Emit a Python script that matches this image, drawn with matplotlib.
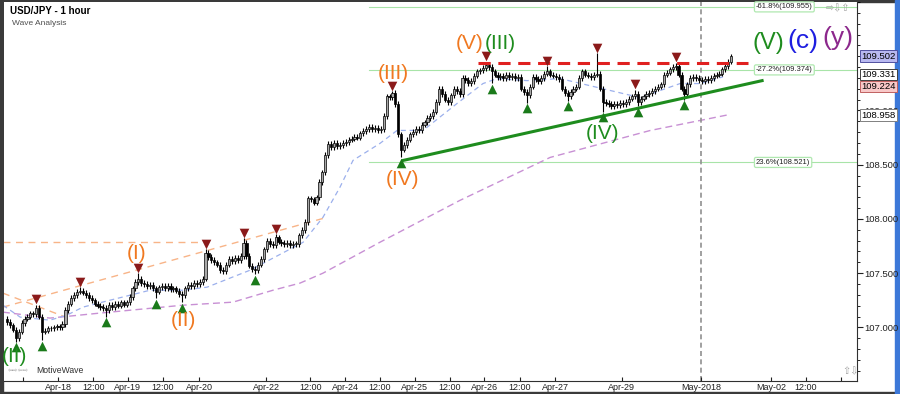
import numpy as np
import matplotlib
matplotlib.use('Agg')
import matplotlib.pyplot as plt
import matplotlib.patches as mpatches

plt.rcParams['font.family'] = ['Liberation Sans', 'DejaVu Sans']

# hourly closes, USD/JPY
closes = [
    107.05, 107.02, 106.98, 106.90, 106.96, 107.04, 107.08, 107.10, 107.13, 107.12, 107.18, 107.10,
    106.96, 106.97, 106.99, 106.99, 107.00, 107.01, 107.00, 107.03, 107.16, 107.22, 107.27, 107.30,
    107.33, 107.34, 107.32, 107.30, 107.27, 107.25, 107.22, 107.20, 107.19, 107.18, 107.16, 107.21,
    107.19, 107.22, 107.20, 107.23, 107.21, 107.23, 107.28, 107.36, 107.42, 107.45, 107.41, 107.40,
    107.38, 107.39, 107.36, 107.33, 107.37, 107.38, 107.36, 107.38, 107.35, 107.36, 107.34, 107.31,
    107.30, 107.36, 107.39, 107.38, 107.41, 107.40, 107.42, 107.45, 107.69, 107.65, 107.62, 107.60,
    107.58, 107.53, 107.52, 107.58, 107.63, 107.61, 107.64, 107.62, 107.66, 107.78, 107.66, 107.57,
    107.54, 107.53, 107.58, 107.63, 107.72, 107.80, 107.77, 107.76, 107.83, 107.79, 107.78, 107.77,
    107.78, 107.76, 107.77, 107.77, 107.85, 107.90, 107.97, 108.19, 108.18, 108.15, 108.20, 108.34,
    108.43, 108.59, 108.69, 108.66, 108.70, 108.67, 108.68, 108.70, 108.71, 108.73, 108.74, 108.76,
    108.75, 108.79, 108.81, 108.83, 108.85, 108.83, 108.84, 108.82, 108.83, 108.95, 109.13, 109.12,
    109.16, 109.06, 108.78, 108.64, 108.68, 108.73, 108.78, 108.80, 108.83, 108.82, 108.87, 108.89,
    108.93, 108.95, 108.99, 109.08, 109.20, 109.15, 109.10, 109.08, 109.14, 109.20, 109.18, 109.15,
    109.30, 109.28, 109.25, 109.27, 109.32, 109.36, 109.37, 109.39, 109.42, 109.40, 109.36, 109.33,
    109.31, 109.32, 109.30, 109.33, 109.31, 109.32, 109.30, 109.31, 109.20, 109.17, 109.14, 109.22,
    109.31, 109.29, 109.27, 109.30, 109.34, 109.36, 109.33, 109.32, 109.31, 109.29, 109.20, 109.16,
    109.13, 109.17, 109.20, 109.22, 109.30, 109.36, 109.33, 109.32, 109.31, 109.33, 109.34, 109.20,
    109.08, 109.07, 109.06, 109.04, 109.06, 109.05, 109.07, 109.06, 109.08, 109.11, 109.13, 109.15,
    109.08, 109.11, 109.13, 109.15, 109.16, 109.18, 109.20, 109.22, 109.24, 109.33, 109.35, 109.38,
    109.40, 109.41, 109.33, 109.20, 109.15, 109.24, 109.30, 109.31, 109.30, 109.28, 109.27, 109.29,
    109.28, 109.30, 109.32, 109.33, 109.34, 109.38, 109.41, 109.45, 109.50,
]
first_open = 107.08

# swing highs / lows (bar index, price) - marked with triangles
swing_hi_idx = [10, 25, 45, 68, 81, 92, 132, 164, 185, 202, 215, 229]
swing_hi_px = [107.21, 107.37, 107.50, 107.72, 107.82, 107.86, 109.18, 109.45, 109.41, 109.53, 109.19, 109.44]
swing_lo_idx = [3, 12, 34, 51, 60, 85, 135, 166, 178, 192, 204, 216, 232]
swing_lo_px = [106.87, 106.88, 107.10, 107.27, 107.23, 107.49, 108.57, 109.25, 109.07, 109.09, 108.99, 109.04, 109.10]

# moving averages (bar index, value)
ma_fast_idx = [-1.4, 4.5, 14.7, 20.5, 26.0, 35.3, 49.0, 60.3, 68.5, 83.2, 101.4, 108.2, 114.0, 118.5,
               127.7, 133.6, 142.5, 154.1, 163.0, 167.8, 178.1, 189.4, 211.0, 216.8, 230.5, 237.3, 245.2]
ma_fast_val = [107.205, 107.095, 107.067, 107.113, 107.187, 107.251, 107.343, 107.343, 107.371, 107.527,
               107.785, 108.015, 108.291, 108.540, 108.696, 108.816, 108.816, 109.064, 109.248, 109.294,
               109.275, 109.294, 109.156, 109.119, 109.248, 109.248, 109.31]
ma_slow_idx = [-1.4, 14.7, 31.8, 60.3, 77.4, 91.1, 100.3, 108.2, 127.7, 155.1, 186.0, 220.2, 246.6]
ma_slow_val = [107.141, 107.086, 107.132, 107.205, 107.233, 107.343, 107.408, 107.500, 107.785,
               108.171, 108.567, 108.815, 108.958]

# fibonacci levels
fib_labels = ['-61.8%(109.955)', '-27.2%(109.374)', '23.6%(108.521)']
fib_levels = [109.955, 109.374, 108.521]

# x axis labels (bar index)
xtick_pos = [5.5, 17.5, 29.5, 41.4, 53.4, 65.8, 88.7, 103.8, 115.8, 127.7, 139.7, 151.7, 163.4,
             175.7, 187.7, 210.6, 237.7, 261.6, 273.6, 285.6]
xtick_lab = ['', 'Apr-18', '12:00', 'Apr-19', '12:00', 'Apr-20', 'Apr-22', '12:00', 'Apr-24', '12:00',
             'Apr-25', '12:00', 'Apr-26', '12:00', 'Apr-27', 'Apr-29', 'May-2018', 'May-02', '12:00', '']

# wave labels: text, bar index, price, colour, size
waves = [
    ('(I)', 44.5, 107.68, '#f07820', 15),
    ('(II)', 60.3, 107.067, '#f07820', 15),
    ('(III)', 132.2, 109.34, '#f07820', 15),
    ('(IV)', 135.6, 108.364, '#f07820', 15),
    ('(V)', 158.6, 109.616, '#f07820', 15),
    ('(III)', 168.8, 109.616, '#1e8c1e', 15),
    ('(II)', 2.7, 106.73, '#1e8c1e', 15),
    ('(IV)', 203.8, 108.789, '#1e8c1e', 15),
    ('(V)', 260.6, 109.625, '#1e8c1e', 17),
    ('(c)', 272.6, 109.643, '#1e1ee0', 19),
    ('(y)', 284.6, 109.671, '#8c288c', 19),
]

# price tags on the right axis
tag_vals = [109.502, 109.331, 109.224, 108.958]
tag_fc = ['#b8b8f0', 'white', '#f8c8c8', 'white']
tag_ec = ['#5050a0', '#404040', '#c06060', '#808080']

fig = plt.figure(figsize=(9, 3.94), dpi=100)
ax = fig.add_axes([4 / 900, 13 / 394, 853 / 900, 379 / 394])

n = len(closes)
idx = np.arange(n)
c = np.array(closes)
o = np.concatenate([[first_open], c[:-1]])
hi = np.maximum(o, c) + 0.025
lo = np.minimum(o, c) - 0.025
for i, p in zip(swing_hi_idx, swing_hi_px):
    hi[i] = p
for i, p in zip(swing_lo_idx, swing_lo_px):
    lo[i] = p

# fib lines
for lvl, lab in zip(fib_levels, fib_labels):
    ax.plot([124, 292], [lvl, lvl], color='#a8e4a8', lw=0.8, zorder=1)
    ax.text(256.5, lvl, lab, fontsize=5.5, ha='left', va='center', color='#202020', zorder=6,
            bbox=dict(boxstyle='round,pad=0.2', fc='white', ec='#b0e8b0', lw=0.9))

# orange trend lines
ax.plot([-1.4, 66], [107.785, 107.785], color='#f8b488', lw=1.0, dashes=(5, 4), zorder=1)
ax.plot([-1.4, 109.6], [107.187, 108.015], color='#f8b488', lw=1.0, dashes=(5, 4), zorder=1)
ax.plot([-1.4, 19.2], [107.316, 107.104], color='#f8b488', lw=1.0, dashes=(5, 4), zorder=1)

# moving averages
ax.plot(ma_slow_idx, ma_slow_val, color='#c890d4', lw=1.0, dashes=(5, 3), zorder=1)
ax.plot(ma_fast_idx, ma_fast_val, color='#9cb0ec', lw=0.9, dashes=(4, 3), zorder=1)

# May-2018 separator
ax.axvline(237.7, color='#909090', lw=1.2, dashes=(3, 2), zorder=1)

# candles
up = c >= o
ax.vlines(idx, lo, hi, color='black', lw=0.8, zorder=3)
body_h = np.maximum(np.abs(c - o), 0.008)
body_b = np.minimum(o, c)
ax.bar(idx[up], body_h[up], bottom=body_b[up], width=0.75, color='#a8a8a8', edgecolor='black', lw=0.5, zorder=4)
ax.bar(idx[~up], body_h[~up], bottom=body_b[~up], width=0.75, color='black', edgecolor='black', lw=0.5, zorder=4)

# support line and resistance
ax.plot([135.6, 258.6], [108.539, 109.275], color='#1e8c1e', lw=2.2, zorder=5)
ax.plot([161.3, 253.8], [109.441, 109.441], color='#e02020', lw=2.2, dashes=(4, 2.5), zorder=5)

# swing triangles
ax.scatter(swing_hi_idx, np.array(swing_hi_px) + 0.05, marker='v', s=48, color='#8b1a1a', zorder=6, linewidths=0)
ax.scatter(swing_lo_idx, np.array(swing_lo_px) - 0.05, marker='^', s=48, color='#1a7a1a', zorder=6, linewidths=0)

# wave labels
for t, x, y, col, fs in waves:
    ax.text(x, y, t, color=col, fontsize=fs, ha='center', va='center', zorder=7)

ax.set_xlim(-1.03, 291.1)
ax.set_ylim(106.506, 109.993)

ax.set_xticks(xtick_pos)
ax.set_xticklabels(xtick_lab, fontsize=6.5)
ax.yaxis.tick_right()
ax.set_yticks([107.0, 107.5, 108.0, 108.5, 109.0])
ax.set_yticklabels(['107.000', '107.500', '108.000', '108.500', '109.000'], fontsize=6.8)
ax.set_yticks(np.arange(106.6, 110.0, 0.1), minor=True)
ax.tick_params(axis='x', direction='in', length=3, pad=1.5, colors='#202020')
ax.tick_params(axis='y', which='major', direction='out', length=4, pad=1, colors='#202020')
ax.tick_params(axis='y', which='minor', direction='out', length=2)
for s in ['left', 'top']:
    ax.spines[s].set_visible(False)
ax.spines['bottom'].set_color('#303030')
ax.spines['right'].set_color('#303030')

# price tags
for v, fc, ec in zip(tag_vals, tag_fc, tag_ec):
    ax.text(1.005, v, '%.3f' % v, transform=ax.get_yaxis_transform(), fontsize=6.8, ha='left',
            va='center', zorder=10, clip_on=False,
            bbox=dict(boxstyle='square,pad=0.12', fc=fc, ec=ec, lw=0.7))

# title
ax.text(0.007, 0.977, 'USD/JPY - 1 hour', transform=ax.transAxes, fontsize=7, weight='bold', va='center')
ax.text(0.009, 0.943, 'Wave Analysis', transform=ax.transAxes, fontsize=6, color='#505050', va='center')
ax.text(0.038, 0.027, 'MotiveWave', transform=ax.transAxes, fontsize=6.2, color='#303030', va='center')
ax.text(0.005, 0.027, '\u21e6\u21e8\u21e6\u21e8', transform=ax.transAxes, fontsize=4.5, color='#a0a0a0',
        va='center', family='DejaVu Sans')
ax.text(0.963, 0.982, '\u21e8\u21e9\u21e7', transform=ax.transAxes, fontsize=7, color='#a0a0a0',
        va='center', family='DejaVu Sans')
ax.text(0.983, 0.025, '\u21e7\u21e9', transform=ax.transAxes, fontsize=7, color='#a0a0a0',
        va='center', family='DejaVu Sans')

# window frame
fig.patches.append(mpatches.Rectangle((0, 0), 3 / 900, 1, transform=fig.transFigure, color='#3a3a3a', zorder=-1))
fig.patches.append(mpatches.Rectangle((0, 0.995), 1, 0.005, transform=fig.transFigure, color='#3a3a3a', zorder=-1))
fig.patches.append(mpatches.Rectangle((0, 0), 1, 2 / 394, transform=fig.transFigure, color='#3a3a3a', zorder=-1))
fig.patches.append(mpatches.Rectangle((895 / 900, 0), 5 / 900, 1, transform=fig.transFigure, color='#3c78d8', zorder=-1))

fig.savefig('out.png', dpi=100)
